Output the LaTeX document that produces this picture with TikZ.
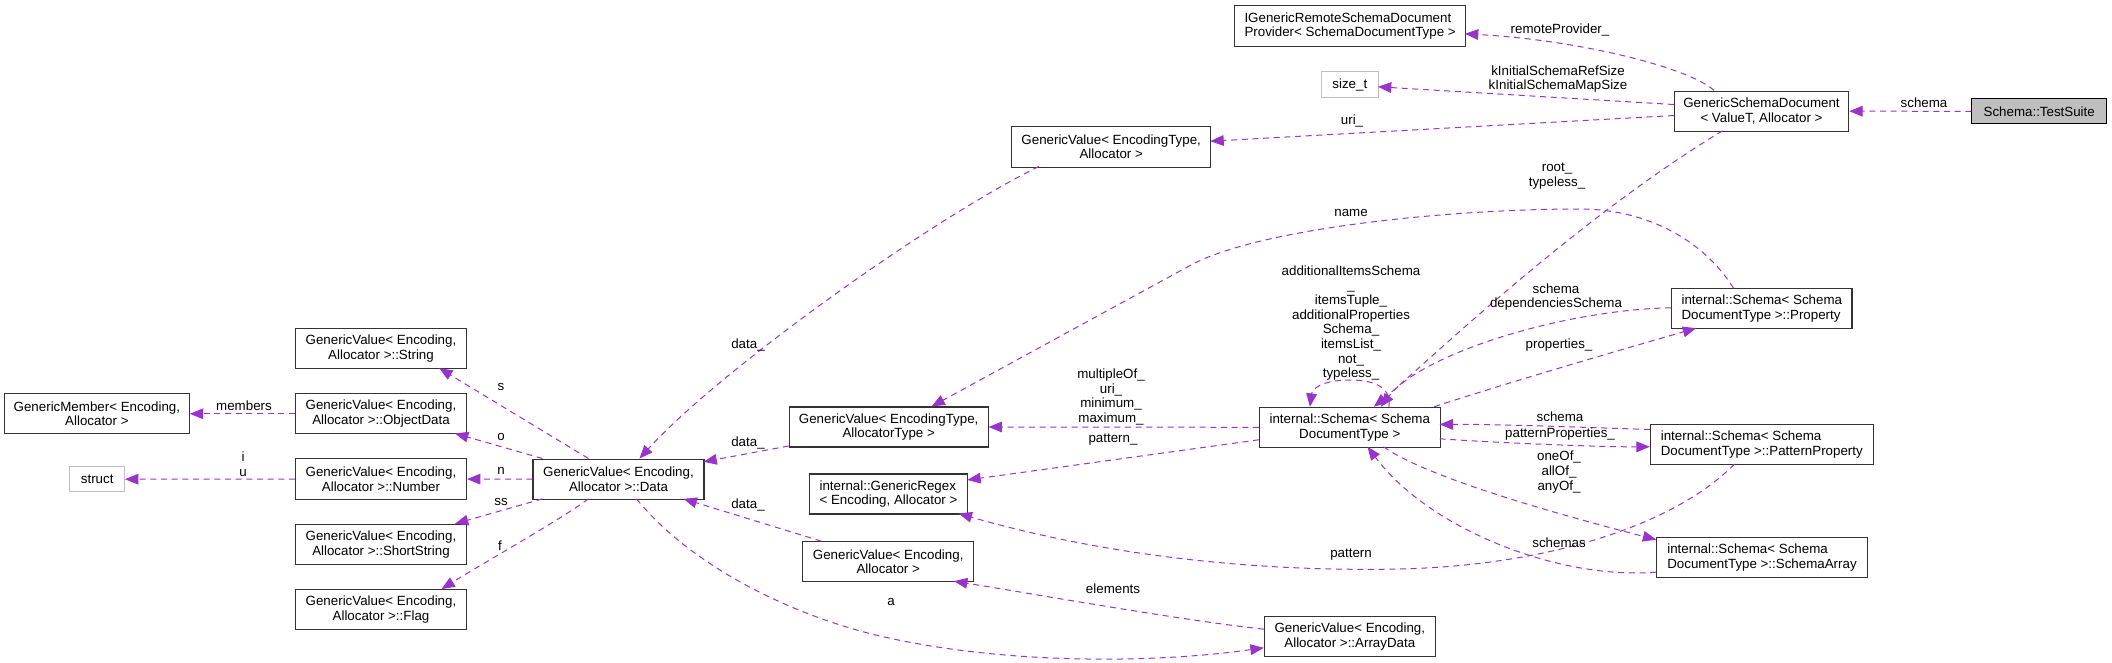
\documentclass[tikz,border=0pt]{standalone}
\usepackage{fontspec}
\setmainfont{Liberation Sans}
\usetikzlibrary{arrows.meta,calc}
\definecolor{edgec}{HTML}{9A32CD}
\definecolor{greyf}{HTML}{BFBFBF}
\begin{document}
\begin{tikzpicture}[x=0.75pt,y=-0.75pt,
  box/.style={draw=black!80, line width=0.8pt, fill=white, inner sep=0pt, align=center, font=\fontsize{10}{11}\selectfont},
  lbox/.style={box, align=left},
  sz/.style 2 args={minimum width=#1*0.75pt, minimum height=#2*0.75pt},
  dep/.style={draw=edgec, line width=0.75pt, dash pattern=on 4.5pt off 3.5pt, -{Triangle[length=10pt,width=8pt]}},
  lab/.style={inner sep=0pt, align=center, font=\fontsize{10}{11}\selectfont},
]
\useasboundingbox (0,0) rectangle (2112,663);

% nodes
\node[box, sz={134.7}{25.3}, fill=greyf, draw=black] (ts) at (2039.2,111.3) {Schema::TestSuite};
\node[box, sz={174.4}{40.3}] (gsd) at (1761.5,111.2) {GenericSchemaDocument\\< ValueT, Allocator >};
\node[lbox, sz={230.8}{40.3}] (igr) at (1350.1,25.9) {IGenericRemoteSchemaDocument\\Provider< SchemaDocumentType >};
\node[box, sz={57.3}{25.6}, draw=greyf] (sizet) at (1349.8,84.5) {size\_t};
\node[box, sz={199.4}{40.3}] (gveta) at (1111.2,146.9) {GenericValue< EncodingType,\\Allocator >};
\node[lbox, sz={180.3}{40}] (prop) at (1761.8,308.7) {internal::Schema< Schema\\DocumentType >::Property};
\node[box, sz={180.7}{40}] (sch) at (1349.8,427.3) {internal::Schema< Schema\\DocumentType >};
\node[lbox, sz={223}{39.8}] (pp) at (1761.8,444.5) {internal::Schema< Schema\\DocumentType >::PatternProperty};
\node[lbox, sz={210.6}{40.2}] (sa) at (1762,557.8) {internal::Schema< Schema\\DocumentType >::SchemaArray};
\node[box, sz={198.7}{40}] (gvetat) at (888.7,427) {GenericValue< EncodingType,\\AllocatorType >};
\node[lbox, sz={158.7}{40}] (rgx) at (888.5,494) {internal::GenericRegex\\< Encoding, Allocator >};
\node[box, sz={170.8}{40}] (gvea) at (888.2,561.7) {GenericValue< Encoding,\\Allocator >};
\node[box, sz={171}{40}] (ad) at (1349.8,636.7) {GenericValue< Encoding,\\Allocator >::ArrayData};
\node[box, sz={171}{40.3}] (data) at (618.5,479.2) {GenericValue< Encoding,\\Allocator >::Data};
\node[box, sz={171}{40}] (str) at (381,348.7) {GenericValue< Encoding,\\Allocator >::String};
\node[box, sz={171}{40.3}] (od) at (381,413.8) {GenericValue< Encoding,\\Allocator >::ObjectData};
\node[box, sz={171}{40.3}] (num) at (381,479.1) {GenericValue< Encoding,\\Allocator >::Number};
\node[box, sz={171}{40.3}] (ss) at (381,544.5) {GenericValue< Encoding,\\Allocator >::ShortString};
\node[box, sz={171}{40.3}] (flag) at (381,609.8) {GenericValue< Encoding,\\Allocator >::Flag};
\node[box, sz={184.8}{40.3}] (gm) at (96.9,413.8) {GenericMember< Encoding,\\Allocator >};
\node[box, sz={54.5}{25}, draw=greyf] (stc) at (97.2,479.2) {struct};

% edges
\draw[dep] (ts.west) -- (gsd.east);
\draw[dep] ($(gsd.north west)+(40.3,0)$) .. controls (1690,68) and (1580,40) .. ($(igr.north west)+(230.8,28.6)$);
\draw[dep] ($(gsd.north west)+(0,14)$) -- ($(sizet.north west)+(57.3,15.6)$);
\draw[dep] ($(gsd.north west)+(0,25)$) -- ($(gveta.north west)+(199.4,15)$);
\draw[dep] ($(gsd.north west)+(48.7,40.3)$) .. controls (1573,221) and (1421,368) .. ($(sch.north west)+(115,0)$);
\draw[dep] ($(prop.north west)+(62.4,0)$) .. controls (1700,235) and (1640,209) .. (1580,209) .. controls (1450,209) and (1260,228) .. (1191,265) -- ($(gvetat.north west)+(142.7,0)$);
\draw[dep] ($(gveta.north west)+(27.8,40.3)$) .. controls (930,220) and (720,370) .. ($(data.north west)+(107,0)$);
\draw[dep] ($(gvetat.north west)+(0,39.5)$) -- ($(data.north west)+(171,3.3)$);
\draw[dep] ($(gvea.north west)+(19,0)$) -- ($(data.north west)+(151,40.3)$);
\draw[dep] ($(ad.north west)+(0,13)$) .. controls (1180,620) and (1040,595) .. ($(gvea.north west)+(151.7,40)$);
\draw[dep] ($(data.north west)+(104,40.3)$) .. controls (690,565) and (790,615) .. (880,636) .. controls (1000,664) and (1150,664) .. ($(ad.north west)+(0,31.6)$);
\draw[dep] (sch.west) -- (gvetat.east);
\draw[dep] ($(sch.north west)+(0,33)$) -- ($(rgx.north west)+(158.7,6.5)$);
\draw[dep] ($(pp.north west)+(84.7,40)$) .. controls (1680,520) and (1560,565) .. (1400,569) .. controls (1200,573) and (1050,540) .. ($(rgx.north west)+(150,40)$);
\draw[dep] ($(sa.north west)+(0,35)$) .. controls (1560,580) and (1430,530) .. ($(sch.north west)+(108.6,40)$);
\draw[dep] ($(sch.north west)+(124.6,40)$) .. controls (1430,480) and (1580,520) .. ($(sa.north west)+(0,2.5)$);
\draw[dep] ($(pp.north west)+(0,5.4)$) .. controls (1600,428) and (1500,424) .. ($(sch.north west)+(180.7,17.7)$);
\draw[dep] ($(sch.north west)+(180.7,32)$) .. controls (1500,443) and (1600,447) .. ($(pp.north west)+(0,22.7)$);
\draw[dep] ($(sch.north west)+(175.3,0)$) .. controls (1500,385) and (1620,350) .. ($(prop.north west)+(25,40)$);
\draw[dep] ($(prop.north west)+(0,19.6)$) .. controls (1560,310) and (1420,355) .. ($(sch.north west)+(122,0)$);
\draw[dep] ($(sch.north west)+(130,0)$) .. controls (1392,385) and (1370,380) .. (1350,380) .. controls (1320,380) and (1312,390) .. ($(sch.north west)+(51,0)$);
\draw[dep] ($(data.north west)+(56,0)$) -- ($(str.north west)+(144.2,40)$);
\draw[dep] ($(data.north west)+(10,0)$) -- ($(od.north west)+(160,40.3)$);
\draw[dep] (data.west) -- (num.east);
\draw[dep] ($(data.north west)+(10,40.3)$) -- ($(ss.north west)+(160,0)$);
\draw[dep] ($(data.north west)+(56,40.3)$) .. controls (560,520) and (480,565) .. ($(flag.north west)+(146.5,0)$);
\draw[dep] (od.west) -- (gm.east);
\draw[dep] (num.west) -- (stc.east);

% labels
\node[lab] (l1) at (1924,103) {schema};
\node[lab] (l2) at (1560,30) {remoteProvider\_};
\node[lab] (l3) at (1558,79) {kInitialSchemaRefSize\\kInitialSchemaMapSize};
\node[lab] (l4) at (1352,121) {uri\_};
\node[lab] (l5) at (1557,176) {root\_\\typeless\_};
\node[lab] (l6) at (1351,213) {name};
\node[lab] (l7) at (748,345) {data\_};
\node[lab] (l8) at (748,443) {data\_};
\node[lab] (l9) at (748,505) {data\_};
\node[lab] (l10) at (1113,589) {elements};
\node[lab] (l11) at (891,602) {a};
\node[lab] (l12) at (1111,397) {multipleOf\_\\uri\_\\minimum\_\\maximum\_};
\node[lab] (l13) at (1113,440) {pattern\_};
\node[lab] (l14) at (1351,555) {pattern};
\node[lab] (l15) at (1559,543) {schemas};
\node[lab] (l16) at (1559,472) {oneOf\_\\allOf\_\\anyOf\_};
\node[lab] (l17) at (1560,417) {schema};
\node[lab] (l18) at (1560,434) {patternProperties\_};
\node[lab] (l19) at (1559,345) {properties\_};
\node[lab] (l20) at (1556,297) {schema\\dependenciesSchema};
\node[lab] (l21) at (1351,323) {additionalItemsSchema\\\_\\itemsTuple\_\\additionalProperties\\Schema\_\\itemsList\_\\not\_\\typeless\_};
\node[lab] (l22) at (501,387) {s};
\node[lab] (l23) at (501,437) {o};
\node[lab] (l24) at (501,471) {n};
\node[lab] (l25) at (501,502) {ss};
\node[lab] (l26) at (500,546) {f};
\node[lab] (l27) at (244,406) {members};
\node[lab] (l28) at (243,464) {i\\u};
\end{tikzpicture}
\end{document}
